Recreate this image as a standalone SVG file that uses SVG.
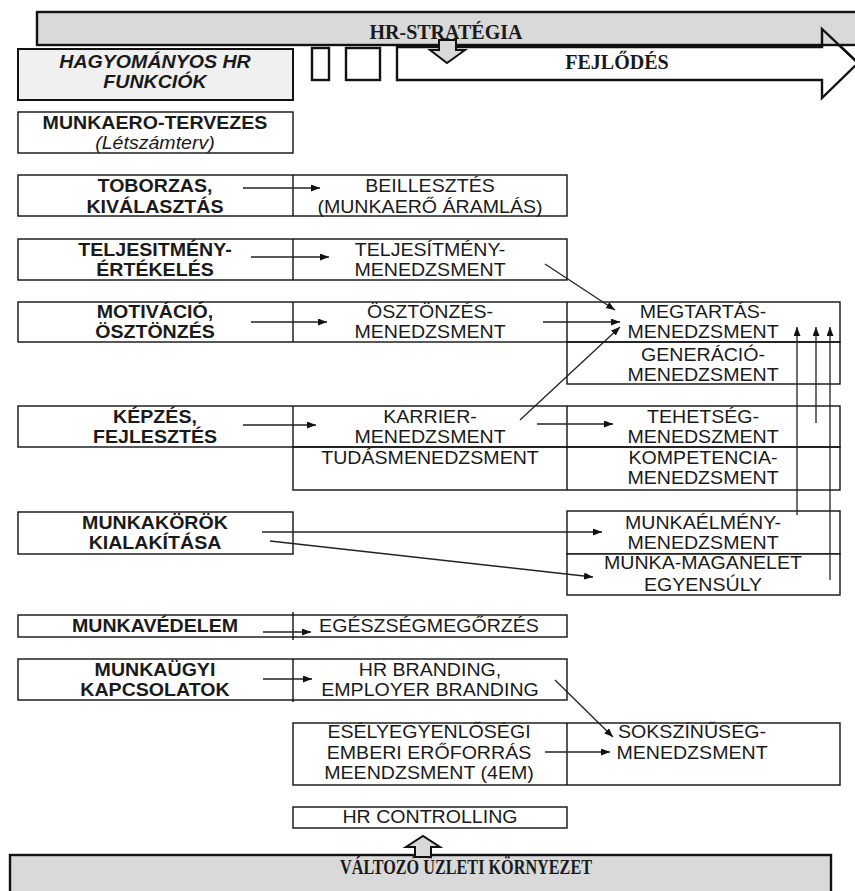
<svg xmlns="http://www.w3.org/2000/svg" width="855" height="891" viewBox="0 0 855 891">
<style>
.bx{fill:#fff;stroke:#111;stroke-width:1.4}
.ln{stroke:#111;stroke-width:1.4;fill:none}
.tk{stroke:#111;stroke-width:2.4;fill:none}
.gr{fill:#d9d9d9;stroke:#111;stroke-width:2.4}
.cn{stroke:#222;stroke-width:1.3;fill:none;marker-end:url(#ah)}
text{fill:#1a1a1a;text-anchor:middle}
.b{font:bold 17.5px "Liberation Sans",Arial,sans-serif}
.n{font:17.5px "Liberation Sans",Arial,sans-serif}
.bi{font:italic bold 17.5px "Liberation Sans",Arial,sans-serif}
.i{font:italic 17.5px "Liberation Sans",Arial,sans-serif}
.s{font:bold 20px "Liberation Serif","Times New Roman",serif}
</style>
<defs>
<marker id="ah" markerUnits="userSpaceOnUse" markerWidth="10" markerHeight="8" refX="9" refY="3.5" orient="auto">
<path d="M0,0 L9,3.5 L0,7 z" fill="#111"/>
</marker>
</defs>

<g id="fejlodes">
<polygon class="tk" style="fill:#fff" points="397,47 822,47 822,29 858,63 822,98 822,80 397,80"/>
</g>
<g id="hr-strategia">
<rect class="gr" x="37" y="12" width="840" height="33"/>
<polyline class="tk" points="822,45 822,29 858,63"/>
<text class="s" x="446" y="39">HR-STRATÉGIA</text>
</g>
<g id="down-arrow">
<polygon class="gr" style="stroke-width:2" points="439,40 456,40 456,50 465,50 447,63 430,50 439,50"/>
</g>
<text class="s" x="617" y="69">FEJLŐDÉS</text>

<g id="hagyomanyos">
<rect class="bx" style="fill:#f0f0f0;stroke-width:2" x="18" y="49" width="275" height="51"/>
<text class="bi" transform="translate(155 68) scale(1.12 1)">HAGYOMÁNYOS HR</text>
<text class="bi" transform="translate(155 88) scale(1.12 1)">FUNKCIÓK</text>
</g>
<g id="small-boxes">
<rect class="tk" x="312" y="48" width="17" height="32"/>
<rect class="tk" x="346" y="48" width="34" height="32"/>
</g>

<g id="munkaero">
<rect class="bx" x="18" y="112" width="275" height="41"/>
<text class="b" transform="translate(155 129) scale(1.12 1)">MUNKAERO-TERVEZES</text>
<text class="i" transform="translate(155 149) scale(1.12 1)">(Létszámterv)</text>
</g>

<g id="toborzas">
<rect class="bx" x="18" y="175" width="549" height="41"/>
<line class="ln" x1="293" y1="175" x2="293" y2="216"/>
<text class="b" transform="translate(155 192) scale(1.12 1)">TOBORZAS,</text>
<text class="b" transform="translate(155 213) scale(1.12 1)">KIVÁLASZTÁS</text>
<text class="n" transform="translate(430 192) scale(1.12 1)">BEILLESZTÉS</text>
<text class="n" transform="translate(430 213) scale(1.12 1)">(MUNKAERŐ ÁRAMLÁS)</text>
</g>

<g id="teljesitmeny">
<rect class="bx" x="18" y="239" width="549" height="41"/>
<line class="ln" x1="293" y1="239" x2="293" y2="280"/>
<text class="b" transform="translate(155 256) scale(1.12 1)">TELJESITMÉNY-</text>
<text class="b" transform="translate(155 276) scale(1.12 1)">ÉRTÉKELÉS</text>
<text class="n" transform="translate(430 256) scale(1.12 1)">TELJESÍTMÉNY-</text>
<text class="n" transform="translate(430 276) scale(1.12 1)">MENEDZSMENT</text>
</g>

<g id="motivacio">
<rect class="bx" x="18" y="302" width="822" height="40"/>
<rect class="bx" style="fill:none" x="567" y="342" width="273" height="42"/>
<line class="ln" x1="293" y1="302" x2="293" y2="342"/>
<line class="ln" x1="567" y1="302" x2="567" y2="342"/>
<text class="b" transform="translate(155 318) scale(1.12 1)">MOTIVÁCIÓ,</text>
<text class="b" transform="translate(155 338) scale(1.12 1)">ÖSZTÖNZÉS</text>
<text class="n" transform="translate(430 318) scale(1.12 1)">ÖSZTÖNZÉS-</text>
<text class="n" transform="translate(430 338) scale(1.12 1)">MENEDZSMENT</text>
<text class="n" transform="translate(703 318) scale(1.12 1)">MEGTARTÁS-</text>
<text class="n" transform="translate(703 338) scale(1.12 1)">MENEDZSMENT</text>
<text class="n" transform="translate(703 361) scale(1.12 1)">GENERÁCIÓ-</text>
<text class="n" transform="translate(703 381) scale(1.12 1)">MENEDZSMENT</text>
</g>

<g id="kepzes">
<rect class="bx" x="18" y="406" width="822" height="41"/>
<rect class="bx" style="fill:none" x="293" y="447" width="547" height="43"/>
<line class="ln" x1="293" y1="406" x2="293" y2="447"/>
<line class="ln" x1="567" y1="406" x2="567" y2="490"/>
<text class="b" transform="translate(155 423) scale(1.12 1)">KÉPZÉS,</text>
<text class="b" transform="translate(155 443) scale(1.12 1)">FEJLESZTÉS</text>
<text class="n" transform="translate(430 423) scale(1.12 1)">KARRIER-</text>
<text class="n" transform="translate(430 443) scale(1.12 1)">MENEDZSMENT</text>
<text class="n" transform="translate(430 464) scale(1.12 1)">TUDÁSMENEDZSMENT</text>
<text class="n" transform="translate(703 423) scale(1.12 1)">TEHETSÉG-</text>
<text class="n" transform="translate(703 443) scale(1.12 1)">MENEDSZMENT</text>
<text class="n" transform="translate(703 464) scale(1.12 1)">KOMPETENCIA-</text>
<text class="n" transform="translate(703 484) scale(1.12 1)">MENEDZSMENT</text>
</g>

<g id="munkakorok">
<rect class="bx" x="18" y="512" width="275" height="42"/>
<text class="b" transform="translate(155 529) scale(1.12 1)">MUNKAKÖRÖK</text>
<text class="b" transform="translate(155 549) scale(1.12 1)">KIALAKÍTÁSA</text>
</g>

<g id="munkaelmeny">
<rect class="bx" x="567" y="511" width="273" height="43"/>
<rect class="bx" x="567" y="554" width="273" height="41"/>
<text class="n" transform="translate(703 529) scale(1.12 1)">MUNKAÉLMÉNY-</text>
<text class="n" transform="translate(703 549) scale(1.12 1)">MENEDZSMENT</text>
<text class="n" transform="translate(703 569) scale(1.12 1)">MUNKA-MAGANELET</text>
<text class="n" transform="translate(703 591) scale(1.12 1)">EGYENSÚLY</text>
</g>

<g id="munkavedelem">
<rect class="bx" x="18" y="615" width="549" height="22"/>
<line class="ln" x1="293" y1="612" x2="293" y2="640"/>
<text class="b" transform="translate(155 632) scale(1.12 1)">MUNKAVÉDELEM</text>
<text class="n" transform="translate(429 632) scale(1.12 1)">EGÉSZSÉGMEGŐRZÉS</text>
</g>

<g id="munkaugyi">
<rect class="bx" x="18" y="659" width="549" height="41"/>
<line class="ln" x1="293" y1="659" x2="293" y2="702"/>
<text class="b" transform="translate(155 676) scale(1.12 1)">MUNKAÜGYI</text>
<text class="b" transform="translate(155 696) scale(1.12 1)">KAPCSOLATOK</text>
<text class="n" transform="translate(430 676) scale(1.12 1)">HR BRANDING,</text>
<text class="n" transform="translate(430 696) scale(1.12 1)">EMPLOYER BRANDING</text>
</g>

<g id="esely">
<rect class="bx" x="293" y="723" width="547" height="62"/>
<line class="ln" x1="567" y1="723" x2="567" y2="785"/>
<text class="n" transform="translate(429 738) scale(1.12 1)">ESÉLYEGYENLŐSÉGI</text>
<text class="n" transform="translate(429 759) scale(1.12 1)">EMBERI ERŐFORRÁS</text>
<text class="n" transform="translate(429 779) scale(1.12 1)">MEENDZSMENT (4EM)</text>
<text class="n" transform="translate(692 738) scale(1.12 1)">SOKSZÍNŰSÉG-</text>
<text class="n" transform="translate(692 759) scale(1.12 1)">MENEDZSMENT</text>
</g>

<g id="hr-controlling">
<rect class="bx" x="293" y="807" width="274" height="21"/>
<text class="n" transform="translate(430 823) scale(1.12 1)">HR CONTROLLING</text>
</g>

<g id="valtozo">
<rect class="gr" x="10" y="855" width="821" height="50"/>
<polygon class="gr" style="stroke-width:2" points="415,857 415,847 406,847 423,836 440,847 431,847 431,857"/>
<text class="s" x="466" y="874" textLength="252" lengthAdjust="spacingAndGlyphs">VÁLTOZÓ ÜZLETI KÖRNYEZET</text>
</g>

<g id="connectors">
<line class="cn" x1="243" y1="188" x2="320" y2="188"/>
<line class="cn" x1="251" y1="257" x2="329" y2="257"/>
<line class="cn" x1="545" y1="264" x2="615" y2="310"/>
<line class="cn" x1="251" y1="322" x2="327" y2="322"/>
<line class="cn" x1="543" y1="322" x2="620" y2="322"/>
<line class="cn" x1="520" y1="420" x2="620" y2="327"/>
<line class="cn" x1="243" y1="425" x2="316" y2="425"/>
<line class="cn" x1="537" y1="424" x2="613" y2="424"/>
<line class="cn" x1="797" y1="515" x2="797" y2="327"/>
<line class="cn" x1="816" y1="423" x2="816" y2="327"/>
<line class="cn" x1="830" y1="580" x2="830" y2="327"/>
<line class="cn" x1="262" y1="532" x2="602" y2="532"/>
<line class="cn" x1="270" y1="541" x2="593" y2="577"/>
<line class="cn" x1="263" y1="632" x2="311" y2="632"/>
<line class="cn" x1="263" y1="679" x2="312" y2="679"/>
<line class="cn" x1="555" y1="680" x2="613" y2="737"/>
<line class="cn" x1="545" y1="752" x2="610" y2="752"/>
</g>
</svg>
